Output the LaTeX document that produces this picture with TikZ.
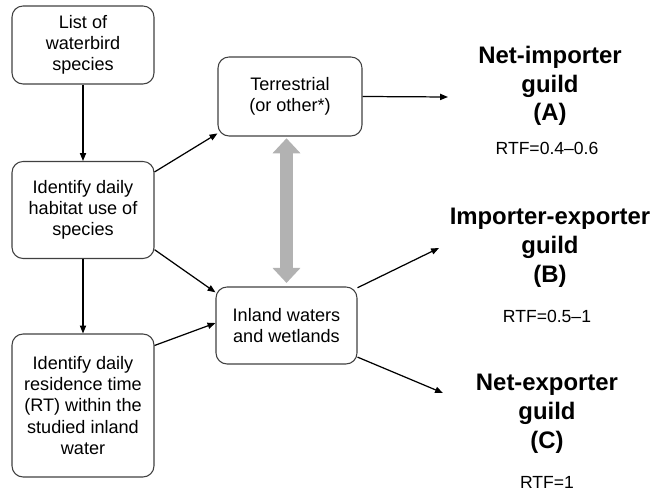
\documentclass[tikz,border=0pt]{standalone}
\usepackage{fontspec}
\setmainfont{Liberation Sans}
\usetikzlibrary{arrows.meta}

\begin{document}
\begin{tikzpicture}[x=0.02cm, y=-0.02cm,
  box/.style={draw=black!75, line width=0.6pt, rounded corners=0.22cm, align=center, inner sep=2pt, font=\fontsize{10.3}{12}\selectfont},
  guild/.style={align=center, font=\fontsize{13.6}{16.4}\selectfont\bfseries},
  rtf/.style={font=\fontsize{10}{12}\selectfont},
  link/.style={-{Triangle[length=4.5pt,width=3.5pt]}, line width=0.7pt},
  exchange/.style={{Triangle[width=5.4mm,length=3mm]}-{Triangle[width=5.4mm,length=3mm]}, line width=2.6mm, draw=black!30}]
\useasboundingbox (0,0) rectangle (652,492);

\node[box, minimum width=2.84cm, minimum height=1.56cm] (list) at (83,45) {List of\\waterbird\\species};
\node[box, minimum width=2.84cm, minimum height=1.94cm] (habitat) at (83,210) {Identify daily\\habitat use of\\species};
\node[box, minimum width=2.84cm, minimum height=2.86cm] (residence) at (83,405.5) {Identify daily\\residence time\\(RT) within the\\studied inland\\water};
\node[box, minimum width=2.88cm, minimum height=1.58cm] (terr) at (290,96.5) {Terrestrial\\(or other*)};
\node[box, minimum width=2.82cm, minimum height=1.54cm] (inland) at (286.5,325.5) {Inland waters\\and wetlands};

\node[guild] (guildA) at (550,86) {Net-importer\\guild\\(A)};
\node[rtf] (rtfA) at (547,148) {RTF=0.4--0.6};
\node[guild] (guildB) at (550,248) {Importer-exporter\\guild\\(B)};
\node[rtf] (rtfB) at (547,316) {RTF=0.5--1};
\node[guild] (guildC) at (547,414) {Net-exporter\\guild\\(C)};
\node[rtf] (rtfC) at (547,482) {RTF=1};

\coordinate (toA) at (448,97);
\coordinate (toB) at (439,248);
\coordinate (toC) at (443,393);

\draw[link] (list) -- (habitat);
\draw[link] (habitat) -- (residence);
\draw[link] (habitat.28) -- (terr.207);
\draw[link] (habitat.331) -- (inland.155);
\draw[link] (residence.40) -- (inland.178);
\draw[link] (terr.east) -- (toA);
\draw[link] (inland.28) -- (toB);
\draw[link] (inland.-24) -- (toC);
\draw[exchange, shorten <=1pt, shorten >=2pt] (terr.south -| inland.north) -- (inland.north);
\end{tikzpicture}
\end{document}
